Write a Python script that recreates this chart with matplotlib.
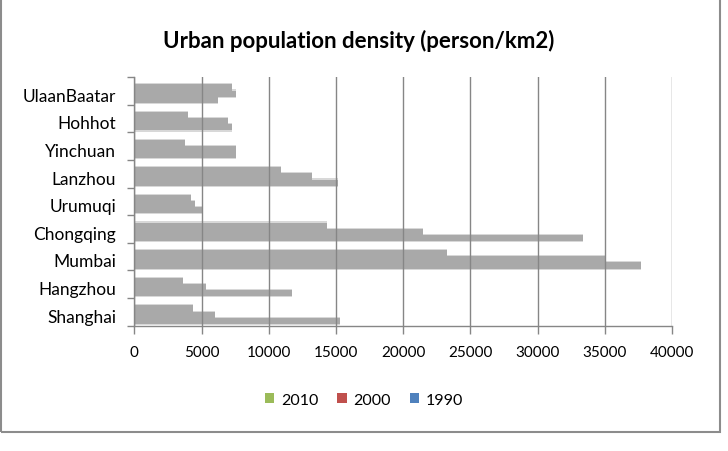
import numpy as np
import matplotlib
matplotlib.use('Agg')
import matplotlib.pyplot as plt
from matplotlib.patches import Patch, Rectangle

plt.rcParams['font.family'] = ['Lato', 'DejaVu Sans']

# 数据（自下而上）
cities = ['Shanghai', 'Hangzhou', 'Mumbai', 'Chongqing', 'Urumuqi',
          'Lanzhou', 'Yinchuan', 'Hohhot', 'UlaanBaatar']
years = ['2010', '2000', '1990']
d2010 = [15300, 11700, 37700, 33400, 5000, 15150, 7600, 7300, 6200]
d2000 = [6000, 5300, 35000, 21500, 4500, 13250, 7600, 7000, 7600]
d1990 = [4350, 3600, 23300, 14300, 4200, 10950, 3750, 4000, 7300]
legend_colors = ['#9bbb59', '#c0504d', '#4f81bd']
xticks = np.arange(0, 40001, 5000)

fig = plt.figure(figsize=(7.28, 4.52), dpi=100)
ax = fig.add_axes([0.1845, 0.2772, 0.7385, 0.5502])

y = np.arange(len(cities))
h = 1 / 4.5
shift = 0.1  # 阴影略向下偏移
grey = '#a9a9a9'
for i, vals in enumerate([d2010, d2000, d1990]):
    pos = y - shift - h + i * h
    # 模糊的阴影效果
    ax.barh(pos, vals, height=h * 1.35, color='#d8d8d8', zorder=1)
    ax.barh(pos, vals, height=h, color=grey, zorder=2)

ax.set_xlim(0, 40000)
ax.set_ylim(-0.5, len(cities) - 0.5)
ax.set_xticks(xticks)
ax.set_xticklabels([str(v) for v in xticks], fontsize=11)
ax.set_yticks(y - 0.12)
ax.set_yticklabels(cities, fontsize=12.5)
ax.set_yticks(np.arange(-0.5, len(cities)), minor=True)
ax.tick_params(axis='y', which='major', length=0, pad=13)
ax.tick_params(axis='y', which='minor', length=5, color='#868686', width=1)
ax.tick_params(axis='x', length=6, color='#868686', width=1, pad=8)
ax.grid(axis='x', color='#868686', linewidth=1, zorder=3)
ax.set_axisbelow(False)
for s in ['top', 'right']:
    ax.spines[s].set_visible(False)
for s in ['left', 'bottom']:
    ax.spines[s].set_color('#868686')
    ax.spines[s].set_linewidth(1)

fig.text(0.493, 0.91, 'Urban population density (person/km2)',
         ha='center', va='center', fontsize=16, fontweight='bold')

handles = [Patch(facecolor=c, edgecolor='none') for c in legend_colors]
fig.legend(handles, years, loc='center', bbox_to_anchor=(0.5, 0.113),
           ncol=3, frameon=False, fontsize=11.5, handlelength=0.6,
           handleheight=0.6, handletextpad=0.4, columnspacing=1.2)

fig.patches.append(Rectangle((0.002, 0.042), 0.987, 1.0, transform=fig.transFigure,
                             fill=False, edgecolor='#8c8c8c', linewidth=1.5))

fig.savefig('out.png', dpi=100)
